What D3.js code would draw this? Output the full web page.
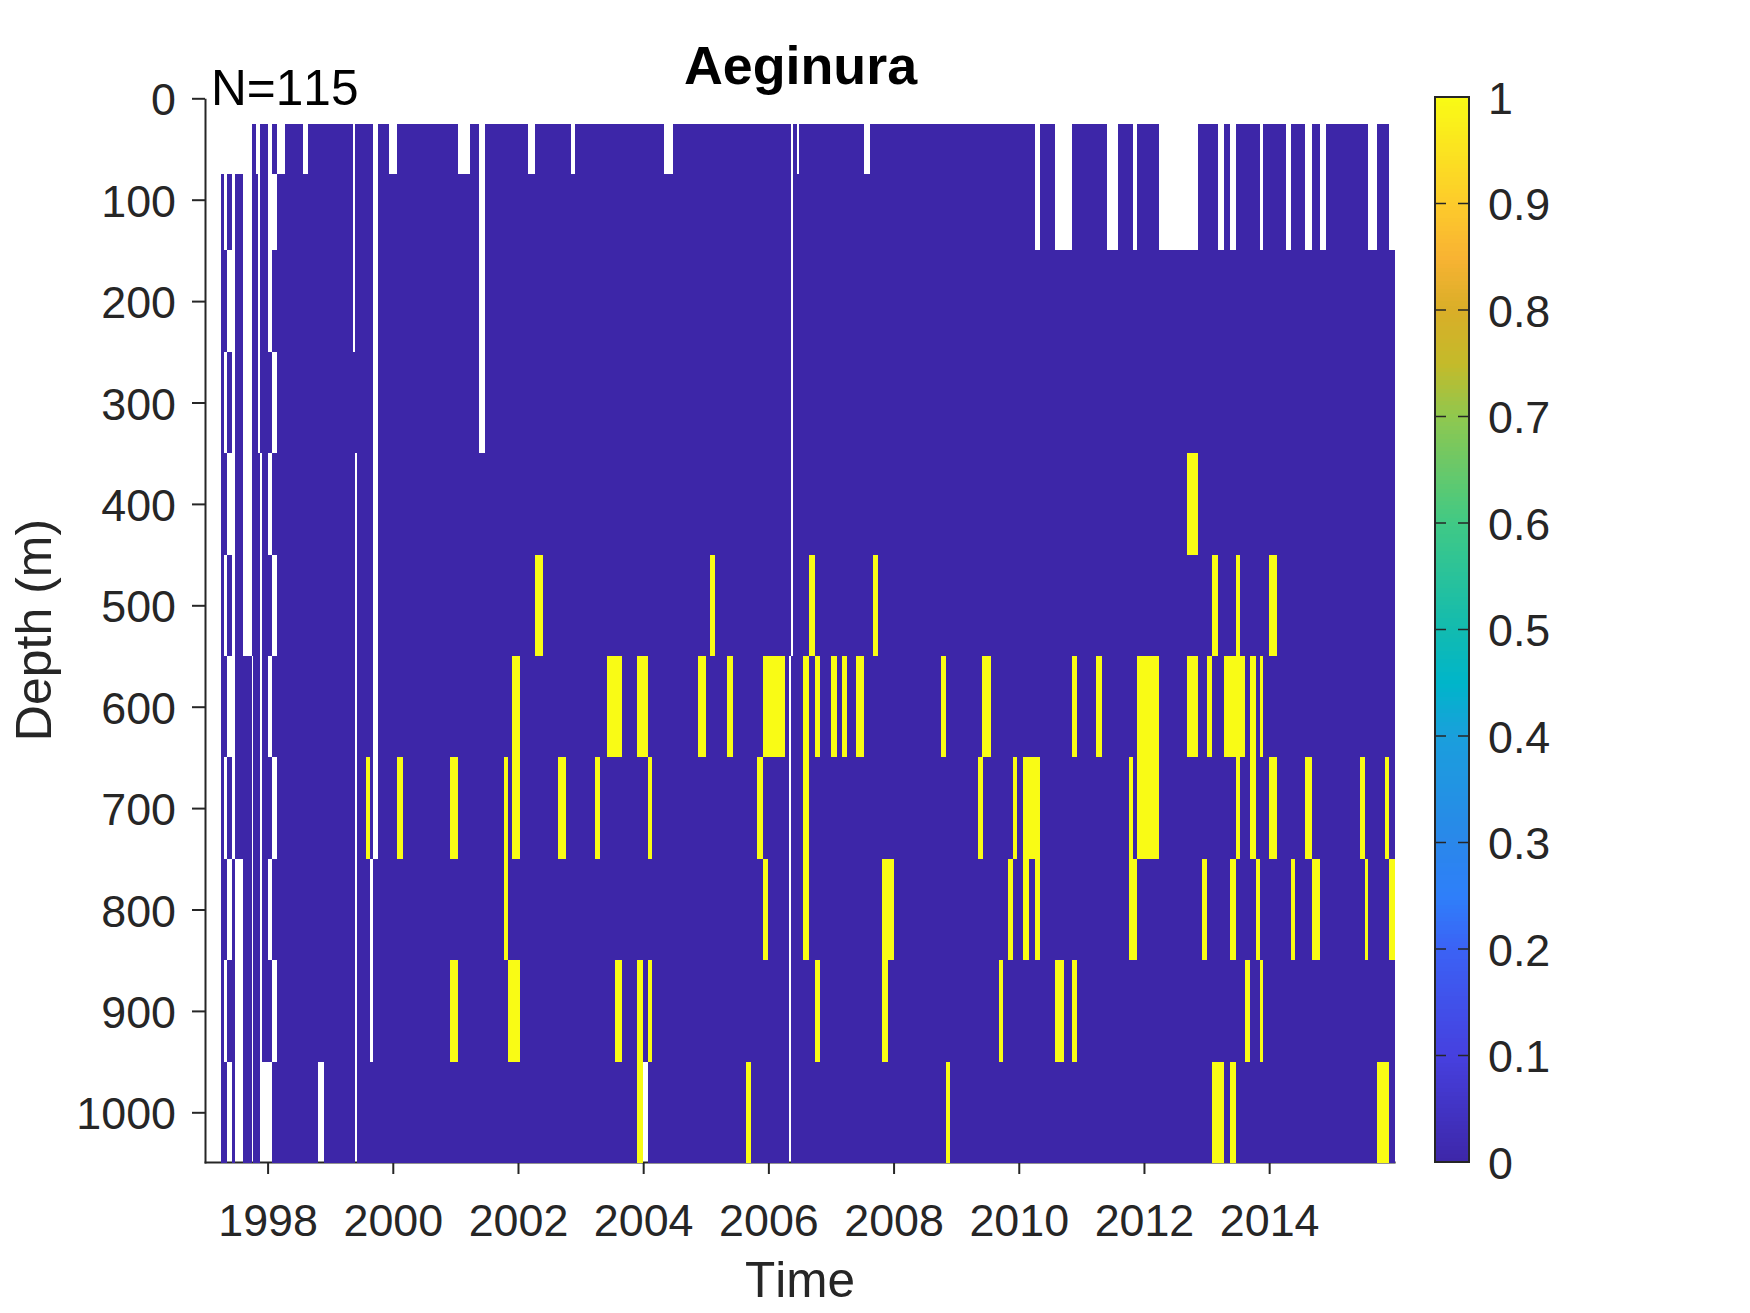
<!DOCTYPE html>
<html>
<head>
<meta charset="utf-8">
<script src="https://cdnjs.cloudflare.com/ajax/libs/d3/7.8.5/d3.min.js"></script>
<style>
body { margin: 0; background: #fff; }
text { font-family: "Liberation Sans", Arial, sans-serif; font-kerning: none; }
</style>
</head>
<body>
<svg width="1750" height="1313"></svg>
<script>
// depth bin edges (m), one row of cells between each pair
var depthEdges = [25, 75, 150, 250, 350, 450, 550, 650, 750, 850, 950, 1050];
var yearTicks = [1998, 2000, 2002, 2004, 2006, 2008, 2010, 2012, 2014];
var depthTicks = [0, 100, 200, 300, 400, 500, 600, 700, 800, 900, 1000];
var cbarTicks = [0, 0.1, 0.2, 0.3, 0.4, 0.5, 0.6, 0.7, 0.8, 0.9, 1];

var firstTime = [1997.761, 1997.272, 1997.272, 1997.272, 1997.272, 1997.272, 1997.272, 1997.272, 1997.272, 1997.272, 1997.272];
var lastTime = 2016.02;

// no samples in the upper two bins after 2010
var lateGaps = [[2010.264,2010.343],[2010.584,2010.858],[2011.418,2011.594],[2011.829,2011.894],[2012.246,2012.872],
  [2013.191,2013.283],[2013.380,2013.478],[2013.856,2013.908],[2014.273,2014.352],[2014.580,2014.691],
  [2014.815,2014.912],[2015.584,2015.727],[2015.923,2016.02]];

// time spans with no data (white), per depth bin
var gaps = [
  [[1997.822,1997.890],[1998.018,1998.079],[1998.159,1998.287],[1998.574,1998.654],[1999.375,1999.399],[1999.693,1999.766],
   [1999.949,2000.078],[2001.050,2001.245],[2001.386,2001.484],[2002.168,2002.284],[2002.859,2002.920],[2004.344,2004.491],
   [2006.371,2006.402],[2006.470,2006.496],[2007.533,2007.631]].concat(lateGaps),
  [[1997.315,1997.364],[1997.443,1997.492],[1997.621,1997.761],[1997.859,1997.890],[1998.018,1998.159],[1999.375,1999.399],
   [1999.693,1999.766],[2001.386,2001.484],[2006.371,2006.402]].concat(lateGaps),
  [[1997.364,1997.492],[1997.621,1997.761],[1997.859,1997.890],[1998.018,1998.079],[1999.375,1999.399],[1999.693,1999.766],
   [2001.386,2001.484],[2006.371,2006.402]],
  [[1997.315,1997.364],[1997.443,1997.492],[1997.621,1997.761],[1997.859,1997.890],[1998.079,1998.159],[1999.693,1999.766],
   [2001.386,2001.484],[2006.371,2006.402]],
  [[1997.364,1997.492],[1997.621,1997.761],[1997.890,1997.920],[1998.018,1998.079],[1999.412,1999.436],[1999.693,1999.766],
   [2006.371,2006.402]],
  [[1997.315,1997.364],[1997.443,1997.492],[1997.621,1997.761],[1997.890,1997.920],[1998.079,1998.159],[1999.412,1999.436],
   [1999.693,1999.766],[2006.371,2006.402]],
  [[1997.364,1997.492],[1997.761,1997.777],[1997.890,1997.920],[1998.018,1998.079],[1999.412,1999.436],[1999.693,1999.766],
   [2006.339,2006.370]],
  [[1997.315,1997.364],[1997.443,1997.492],[1997.761,1997.777],[1997.890,1997.920],[1998.079,1998.159],[1999.412,1999.436],
   [1999.693,1999.766],[2006.339,2006.370]],
  [[1997.364,1997.443],[1997.492,1997.621],[1997.761,1997.777],[1997.890,1997.920],[1998.018,1998.079],[1999.412,1999.436],
   [1999.644,1999.693],[2006.339,2006.370]],
  [[1997.315,1997.364],[1997.492,1997.621],[1997.761,1997.777],[1997.890,1997.920],[1998.079,1998.159],[1999.412,1999.436],
   [1999.644,1999.693],[2006.339,2006.370]],
  [[1997.364,1997.443],[1997.492,1997.621],[1997.761,1997.777],[1997.890,1998.079],[1998.819,1998.910],[1999.412,1999.436],
   [2004.008,2004.088],[2006.339,2006.370]]
];

// time spans where Aeginura was present (value 1), per depth bin
var present = [
  [],
  [],
  [],
  [],
  [[2012.696,2012.872]],
  [[2002.284,2002.413],[2005.078,2005.157],[2006.659,2006.751],[2007.676,2007.761],[2013.094,2013.191],[2013.478,2013.537],
   [2014.006,2014.130]],
  [[2001.912,2002.040],[2003.434,2003.672],[2003.910,2004.088],[2004.888,2005.011],[2005.347,2005.445],[2005.921,2006.270],
   [2006.562,2006.659],[2006.757,2006.829],[2007.005,2007.103],[2007.181,2007.266],[2007.416,2007.533],[2008.765,2008.843],
   [2009.430,2009.560],[2010.858,2010.936],[2011.242,2011.333],[2011.894,2012.246],[2012.696,2012.872],[2013.015,2013.094],
   [2013.283,2013.622],[2013.700,2013.798],[2013.856,2013.908]],
  [[1999.583,1999.644],[2000.078,2000.176],[2000.921,2001.050],[2001.789,2001.850],[2001.912,2002.040],[2002.651,2002.773],
   [2003.238,2003.317],[2004.088,2004.149],[2005.830,2005.921],[2006.562,2006.659],[2009.358,2009.436],[2009.912,2009.978],
   [2010.075,2010.343],[2011.770,2011.829],[2011.894,2012.246],[2013.478,2013.537],[2013.700,2013.798],[2014.006,2014.130],
   [2014.580,2014.691],[2015.460,2015.538],[2015.858,2015.923]],
  [[2001.789,2001.850],[2005.921,2006.001],[2006.562,2006.659],[2007.820,2008.015],[2009.834,2009.925],[2010.075,2010.173],
   [2010.264,2010.343],[2011.770,2011.894],[2012.931,2013.015],[2013.380,2013.478],[2013.804,2013.856],[2014.358,2014.417],
   [2014.691,2014.815],[2015.538,2015.584],[2015.923,2016.02]],
  [[2000.921,2001.050],[2001.850,2002.040],[2003.562,2003.672],[2003.910,2004.008],[2004.088,2004.149],[2006.757,2006.829],
   [2007.820,2007.918],[2009.691,2009.756],[2010.584,2010.734],[2010.858,2010.936],[2013.628,2013.700],[2013.856,2013.908]],
  [[2003.910,2004.008],[2005.652,2005.732],[2008.843,2008.908],[2013.094,2013.283],[2013.380,2013.478],[2015.727,2015.923]]
];

var parulaStops = [0, 0.1, 0.2, 0.25, 0.3, 0.4, 0.45, 0.5, 0.6, 0.7, 0.75, 0.8, 0.85, 0.9, 1];
var parulaColors = ["#3d26a8", "#4640df", "#3b62f5", "#2e7ffa", "#2a87ea", "#1a9fdc", "#00b5ca", "#12bbb0", "#40c985",
  "#8fc84f", "#c4ba2a", "#d9ae28", "#f8b333", "#fdcb2b", "#f9fb15"];

var dark = "#262626";

var svg = d3.select("svg");

var x = d3.scaleLinear().domain([1997, 2016.02]).range([204.4, 1395]);
var y = d3.scaleLinear().domain([0, 1050]).range([98.3, 1163]);
var z = d3.scaleLinear().domain(parulaStops).range(parulaColors);
var cbarY = d3.scaleLinear().domain([0, 1]).range([1162, 97]);

// axes go underneath, the cells cover the axis line like in the original
var xAxis = svg.append("g")
    .attr("transform", "translate(0.6,1162)")
    .call(d3.axisBottom(x).tickValues(yearTicks).tickFormat(d3.format("d")).tickSize(12).tickSizeOuter(0).tickPadding(30));
var yAxis = svg.append("g")
    .attr("transform", "translate(205,0)")
    .call(d3.axisLeft(y).tickValues(depthTicks).tickFormat(d3.format("d")).tickSize(13).tickSizeOuter(0).tickPadding(16));

xAxis.select(".domain").attr("d", "M204,0.5H1395");

[xAxis, yAxis].forEach(function(a) {
  a.selectAll("line").attr("stroke", dark).attr("stroke-width", 2);
  a.select(".domain").attr("stroke", dark).attr("stroke-width", 2);
  a.selectAll("text").attr("fill", dark).attr("font-size", 44.8).attr("font-family", "Liberation Sans");
});
yAxis.selectAll("text").attr("dy", "0.37em");

// blue cells are what is left of each row once the gaps are taken out
var cells = [];
depthEdges.slice(1).forEach(function(bottom, i) {
  var top = depthEdges[i], t = firstTime[i];
  gaps[i].forEach(function(g) {
    if (g[0] > t) cells.push({top: top, bottom: bottom, t0: t, t1: g[0], v: 0});
    t = g[1];
  });
  if (t < lastTime) cells.push({top: top, bottom: bottom, t0: t, t1: lastTime, v: 0});
  present[i].forEach(function(p) {
    cells.push({top: top, bottom: bottom, t0: p[0], t1: p[1], v: 1});
  });
});

svg.append("g")
    .attr("shape-rendering", "crispEdges")
  .selectAll("rect")
  .data(cells)
  .enter().append("rect")
    .attr("x", function(d) { return x(d.t0); })
    .attr("y", function(d) { return y(d.top); })
    .attr("width", function(d) { return x(d.t1) - x(d.t0); })
    .attr("height", function(d) { return y(d.bottom) - y(d.top); })
    .attr("fill", function(d) { return z(d.v); });

// colorbar
var cbarLeft = 1435, cbarRight = 1469;
var cbar = svg.append("g");

cbar.append("g")
    .attr("shape-rendering", "crispEdges")
  .selectAll("rect")
  .data(d3.range(0, 256))
  .enter().append("rect")
    .attr("x", cbarLeft)
    .attr("width", cbarRight - cbarLeft)
    .attr("y", function(d) { return cbarY((d + 1) / 256); })
    .attr("height", function(d) { return cbarY(d / 256) - cbarY((d + 1) / 256) + 0.5; })
    .attr("fill", function(d) { return z((d + 0.5) / 256); });

cbar.append("rect")
    .attr("x", cbarLeft)
    .attr("y", cbarY(1))
    .attr("width", cbarRight - cbarLeft)
    .attr("height", cbarY(0) - cbarY(1))
    .attr("fill", "none")
    .attr("stroke", dark)
    .attr("stroke-width", 2);

var cbarTick = cbar.selectAll(".cbar-tick")
    .data(cbarTicks)
  .enter().append("g")
    .attr("class", "cbar-tick")
    .attr("transform", function(d) { return "translate(0," + cbarY(d) + ")"; });

cbarTick.append("line").attr("x1", cbarLeft).attr("x2", cbarLeft + 11).attr("stroke", dark).attr("stroke-width", 1.5);
cbarTick.append("line").attr("x1", cbarRight - 11).attr("x2", cbarRight).attr("stroke", dark).attr("stroke-width", 1.5);
cbarTick.append("text")
    .attr("x", 1488)
    .attr("dy", "0.37em")
    .attr("font-size", 44.8)
    .attr("fill", dark)
    .text(function(d) { return d; });

// titles and labels
svg.append("text")
    .attr("x", 800.5)
    .attr("y", 84)
    .attr("text-anchor", "middle")
    .attr("font-size", 53.8)
    .attr("font-weight", "bold")
    .attr("fill", "#000")
    .text("Aeginura");

svg.append("text")
    .attr("x", 211)
    .attr("y", 105)
    .attr("font-size", 49.6)
    .attr("fill", "#000")
    .text("N=115");

svg.append("text")
    .attr("x", 800)
    .attr("y", 1297)
    .attr("text-anchor", "middle")
    .attr("font-size", 49.5)
    .attr("fill", dark)
    .text("Time");

svg.append("text")
    .attr("transform", "translate(51,630) rotate(-90)")
    .attr("text-anchor", "middle")
    .attr("font-size", 50)
    .attr("fill", dark)
    .text("Depth (m)");
</script>
</body>
</html>
